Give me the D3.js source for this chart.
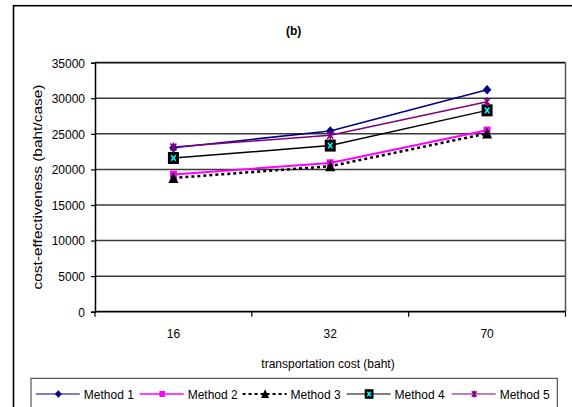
<!DOCTYPE html>
<html>
<head>
<meta charset="utf-8">
<script src="https://cdn.jsdelivr.net/npm/d3@7/dist/d3.min.js"></script>
<style>
  html, body { margin: 0; padding: 0; background: #fff; }
  svg { display: block; }
  text { font-family: "Liberation Sans", Arial, sans-serif; fill: #000; }
</style>
</head>
<body>
<svg id="chart" width="572" height="407"></svg>
<script>
// ---- data ----
const categories = ["16", "32", "70"];
const method1 = [23050, 25400, 31200];
const method2 = [19300, 20900, 25500];
const method3 = [18800, 20450, 25050];
const method4 = [21600, 23350, 28300];
const method5 = [23150, 24800, 29500];
const seriesNames = ["Method 1", "Method 2", "Method 3", "Method 4", "Method 5"];
const yTicks = [0, 5000, 10000, 15000, 20000, 25000, 30000, 35000];

const seriesValues = [method1, method2, method3, method4, method5];
const styles = [
  { color: "#000080", width: 1.5, dash: null, marker: "diamond" },
  { color: "#FF00FF", width: 2, dash: null, marker: "square" },
  { color: "#000000", width: 2.5, dash: "3,3", marker: "triangle" },
  { color: "#000000", width: 1.5, dash: null, marker: "xsquare" },
  { color: "#800080", width: 1.5, dash: null, marker: "star" }
];

const svg = d3.select("#chart");
const m = { left: 95, right: 565.5, top: 62.7, bottom: 311.7 };

const x = d3.scaleBand().domain(categories).range([m.left, m.right]).padding(0);
const y = d3.scaleLinear().domain([0, 35000]).range([m.bottom, m.top]);

// outer frame
svg.append("rect").attr("x", 13.5).attr("y", 5.7).attr("width", 570).attr("height", 420)
  .attr("fill", "none").attr("stroke", "#000").attr("stroke-width", 1.6);

// title
svg.append("text").attr("x", 293.7).attr("y", 34.5).attr("text-anchor", "middle")
  .style("font-size", "12px").style("font-weight", "bold").text("(b)");

// gridlines
svg.append("g").selectAll("line").data(yTicks.filter(d => d > 0)).join("line")
  .attr("x1", m.left).attr("x2", m.right)
  .attr("y1", d => y(d)).attr("y2", d => y(d))
  .attr("stroke", d => d === 35000 ? "#111" : "#3a3a3a")
  .attr("stroke-width", d => d === 35000 ? 1.8 : 1.5);

// right border
svg.append("line").attr("x1", m.right).attr("x2", m.right).attr("y1", m.top).attr("y2", m.bottom)
  .attr("stroke", "#555").attr("stroke-width", 1.5);

// y axis
const yAxis = d3.axisLeft(y).tickValues(yTicks).tickSize(4).tickPadding(6).tickFormat(d3.format("d"));
const gy = svg.append("g").attr("transform", `translate(${m.left},0)`).call(yAxis);
gy.select(".domain").attr("stroke", "#000").attr("stroke-width", 1.5);
gy.selectAll(".tick line").attr("stroke", "#000").attr("stroke-width", 1.2);
gy.selectAll(".tick text").style("font-size", "12px").style("font-family", "Liberation Sans, Arial, sans-serif")
  .attr("fill", "#000").attr("dy", "0.36em");

// x axis: ticks at band boundaries
const gx = svg.append("g").attr("transform", `translate(0,${m.bottom})`);
gx.append("line").attr("x1", m.left).attr("x2", m.right).attr("y1", 0).attr("y2", 0)
  .attr("stroke", "#000").attr("stroke-width", 1.8);
const boundaries = categories.map(c => x(c)).concat([x(categories[categories.length - 1]) + x.bandwidth()]);
gx.selectAll("line.tk").data(boundaries).join("line").attr("class", "tk")
  .attr("x1", d => d).attr("x2", d => d).attr("y1", 0).attr("y2", 5)
  .attr("stroke", "#000").attr("stroke-width", 1.2);
gx.selectAll("text").data(categories).join("text")
  .attr("x", d => x(d) + x.bandwidth() / 2).attr("y", 26.5)
  .attr("text-anchor", "middle").style("font-size", "12px").text(d => d);

// axis titles
svg.append("text").attr("x", 328).attr("y", 367.5).attr("text-anchor", "middle")
  .style("font-size", "12px").text("transportation cost (baht)");
svg.append("text").attr("transform", "translate(42,187) rotate(-90)")
  .attr("text-anchor", "middle").style("font-size", "13px")
  .attr("textLength", 205).attr("lengthAdjust", "spacingAndGlyphs")
  .text("cost-effectiveness (baht/case)");

// marker drawing
function drawMarker(g, type, cx, cy, s) {
  const k = s || 1;
  if (type === "diamond") {
    g.append("path").attr("d", `M${cx},${cy - 4.5 * k}L${cx + 4 * k},${cy}L${cx},${cy + 4.5 * k}L${cx - 4 * k},${cy}Z`)
      .attr("fill", "#000080").attr("stroke", "#000080").attr("stroke-width", 0.5);
  } else if (type === "square") {
    g.append("rect").attr("x", cx - 3.5 * k).attr("y", cy - 3.7 * k).attr("width", 7 * k).attr("height", 7.4 * k)
      .attr("fill", "#FF00FF");
  } else if (type === "triangle") {
    g.append("path").attr("d", `M${cx},${cy - 6 * k}L${cx + 5 * k},${cy + 5 * k}L${cx - 5 * k},${cy + 5 * k}Z`)
      .attr("fill", "#000");
  } else if (type === "xsquare") {
    g.append("rect").attr("x", cx - 5.5 * k).attr("y", cy - 6 * k).attr("width", 11 * k).attr("height", 12 * k)
      .attr("fill", "#000");
    g.append("path").attr("d", `M${cx - 2.3 * k},${cy - 2.8 * k}L${cx + 2.3 * k},${cy + 2.8 * k}M${cx + 2.3 * k},${cy - 2.8 * k}L${cx - 2.3 * k},${cy + 2.8 * k}`)
      .attr("stroke", "#00FFFF").attr("stroke-width", 1.5);
  } else if (type === "star") {
    g.append("path").attr("d", `M${cx - 3 * k},${cy - 3.5 * k}L${cx + 3 * k},${cy + 3.5 * k}M${cx + 3 * k},${cy - 3.5 * k}L${cx - 3 * k},${cy + 3.5 * k}M${cx},${cy - 4.5 * k}L${cx},${cy + 4.5 * k}`)
      .attr("stroke", "#800080").attr("stroke-width", 1.5).attr("fill", "none");
  }
}

// lines
const line = d3.line().x((d, i) => x(categories[i]) + x.bandwidth() / 2).y(d => y(d));
const linesG = svg.append("g");
seriesValues.forEach((vals, si) => {
  const st = styles[si];
  linesG.append("path").datum(vals).attr("d", line)
    .attr("fill", "none").attr("stroke", st.color).attr("stroke-width", st.width)
    .attr("stroke-dasharray", st.dash);
});
// markers
const markG = svg.append("g");
seriesValues.forEach((vals, si) => {
  vals.forEach((v, i) => drawMarker(markG, styles[si].marker, x(categories[i]) + x.bandwidth() / 2, y(v), 1));
});

// legend
svg.append("rect").attr("x", 31).attr("y", 378.3).attr("width", 526.3).attr("height", 40)
  .attr("fill", "#fff").attr("stroke", "#333").attr("stroke-width", 1);
const legendX = [35.8, 139.7, 242.6, 346.6, 451.7];
const legY = 394;
seriesNames.forEach((name, i) => {
  const st = styles[i];
  const g = svg.append("g");
  const x0 = legendX[i];
  g.append("line").attr("x1", x0).attr("x2", x0 + 44).attr("y1", legY).attr("y2", legY)
    .attr("stroke", st.color).attr("stroke-width", st.dash ? 2 : (i === 1 ? 1.5 : 1.2))
    .attr("stroke-dasharray", st.dash);
  drawMarker(g, st.marker, x0 + 22.5, legY, 0.8);
  g.append("text").attr("x", x0 + 48).attr("y", legY + 4.5).style("font-size", "12px").text(name);
});
</script>
</body>
</html>
